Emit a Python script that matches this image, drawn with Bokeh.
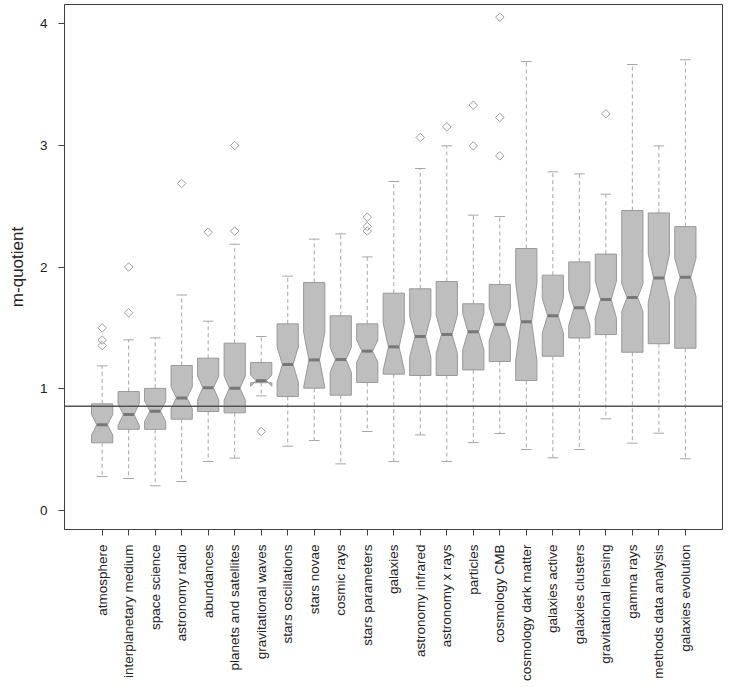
import numpy as np
from bokeh.plotting import figure
from bokeh.models import Range1d, FixedTicker, Span
from bokeh.embed import file_html
from bokeh.resources import INLINE

categories = ["atmosphere", "interplanetary medium", "space science", "astronomy radio",
              "abundances", "planets and satellites", "gravitational waves", "stars oscillations",
              "stars novae", "cosmic rays", "stars parameters", "galaxies", "astronomy infrared",
              "astronomy x rays", "particles", "cosmology CMB", "cosmology dark matter",
              "galaxies active", "galaxies clusters", "gravitational lensing", "gamma rays",
              "methods data analysis", "galaxies evolution"]

whisker_low = [0.279, 0.263, 0.203, 0.238, 0.402, 0.430, 0.942, 0.528, 0.575, 0.383, 0.649, 0.402,
               0.621, 0.402, 0.558, 0.632, 0.501, 0.433, 0.501, 0.753, 0.553, 0.635, 0.425]
q1 = [0.556, 0.667, 0.667, 0.750, 0.813, 0.802, 1.050, 0.936, 1.005, 0.947, 1.051, 1.120,
      1.109, 1.109, 1.155, 1.224, 1.068, 1.267, 1.417, 1.445, 1.300, 1.370, 1.333]
median = [0.704, 0.788, 0.815, 0.925, 1.008, 1.005, 1.066, 1.199, 1.237, 1.240, 1.309, 1.344,
          1.429, 1.446, 1.468, 1.528, 1.550, 1.600, 1.666, 1.733, 1.749, 1.910, 1.915]
q3 = [0.876, 0.977, 1.003, 1.191, 1.251, 1.374, 1.216, 1.533, 1.873, 1.599, 1.533, 1.785,
      1.821, 1.881, 1.698, 1.856, 2.152, 1.933, 2.042, 2.106, 2.464, 2.444, 2.332]
notch_low = [0.620, 0.700, 0.730, 0.835, 0.910, 0.905, 1.020, 1.054, 1.010, 1.136, 1.218, 1.150,
             1.260, 1.290, 1.320, 1.396, 1.230, 1.455, 1.520, 1.580, 1.635, 1.711, 1.760]
notch_high = [0.788, 0.876, 0.900, 1.015, 1.105, 1.105, 1.112, 1.343, 1.465, 1.340, 1.400, 1.540,
              1.600, 1.605, 1.620, 1.665, 1.870, 1.745, 1.810, 1.885, 1.862, 2.106, 2.070]
whisker_high = [1.188, 1.402, 1.418, 1.770, 1.555, 2.187, 1.429, 1.925, 2.229, 2.272, 2.083, 2.702,
                2.809, 2.995, 2.426, 2.415, 3.688, 2.782, 2.765, 2.598, 3.663, 2.995, 3.702]

outlier_cat = [1, 1, 1, 2, 2, 4, 5, 6, 6, 7, 11, 11, 11, 13, 14, 15, 15, 16, 16, 16, 20]
outlier_val = [1.50, 1.40, 1.355, 2.00, 1.624, 2.686, 2.286, 2.998, 2.295, 0.649, 2.409, 2.333,
               2.295, 3.064, 3.151, 3.329, 2.995, 4.052, 3.228, 2.913, 3.258]

y_ticks = [0, 1, 2, 3, 4]
reference_line = 0.857

FONT = "Liberation Sans"
BOX_FILL = "#bebebe"
BOX_LINE = "#999999"
WHISK = "#a6a6a6"
MED = "#777777"

p = figure(width=728, height=686, output_backend="svg", toolbar_location=None,
           x_range=Range1d(-0.42, 24.40), y_range=Range1d(-0.156, 4.156),
           min_border_left=64, min_border_right=6, min_border_top=4, min_border_bottom=157)
p.background_fill_color = "white"
p.border_fill_color = "white"
p.outline_line_color = "#404040"
p.outline_line_width = 1
p.grid.visible = False

n = len(categories)
xpos = np.arange(1, n + 1)
w = 0.4

xs, ys = [], []
for i in range(n):
    x = xpos[i]
    xs.append([x - w, x + w, x + w, x + w / 2, x + w, x + w, x - w, x - w, x - w / 2, x - w])
    ys.append([q1[i], q1[i], notch_low[i], median[i], notch_high[i], q3[i], q3[i],
               notch_high[i], median[i], notch_low[i]])

# whiskers and staples
p.segment(x0=xpos, y0=q3, x1=xpos, y1=whisker_high, line_color=WHISK, line_width=1, line_dash="4 3")
p.segment(x0=xpos, y0=q1, x1=xpos, y1=whisker_low, line_color=WHISK, line_width=1, line_dash="4 3")
p.segment(x0=xpos - w / 2, y0=whisker_high, x1=xpos + w / 2, y1=whisker_high, line_color=WHISK, line_width=1)
p.segment(x0=xpos - w / 2, y0=whisker_low, x1=xpos + w / 2, y1=whisker_low, line_color=WHISK, line_width=1)

# notched boxes and medians
p.patches(xs=xs, ys=ys, fill_color=BOX_FILL, line_color=BOX_LINE, line_width=1)
p.segment(x0=xpos - w / 2, y0=median, x1=xpos + w / 2, y1=median, line_color=MED, line_width=3)

# outliers
p.scatter(x=outlier_cat, y=outlier_val, marker="square", angle=np.pi / 4, size=6,
          fill_color=None, line_color="#9c9c9c", line_width=1)

p.add_layout(Span(location=reference_line, dimension="width", line_color="#555555", line_width=1.5))

p.xaxis.ticker = FixedTicker(ticks=list(xpos))
p.xaxis.major_label_overrides = {int(k): c for k, c in zip(xpos, categories)}
p.xaxis.major_label_orientation = np.pi / 2
p.yaxis.ticker = FixedTicker(ticks=y_ticks)
for ax in (p.xaxis[0], p.yaxis[0]):
    ax.axis_line_color = "#404040"
    ax.major_tick_line_color = "#404040"
    ax.major_tick_in = 0
    ax.major_tick_out = 6
    ax.minor_tick_line_color = None
    ax.major_label_text_font = FONT
    ax.major_label_text_font_size = "13.5px"
    ax.major_label_text_color = "#222222"
p.xaxis.major_label_standoff = 9
p.yaxis.major_label_standoff = 11
p.yaxis.axis_label = "m-quotient"
p.yaxis.axis_label_text_font = FONT
p.yaxis.axis_label_text_font_style = "normal"
p.yaxis.axis_label_text_font_size = "17px"
p.yaxis.axis_label_text_color = "#222222"
p.yaxis.axis_label_standoff = 10

open("out.html", "w").write(file_html(p, INLINE))
